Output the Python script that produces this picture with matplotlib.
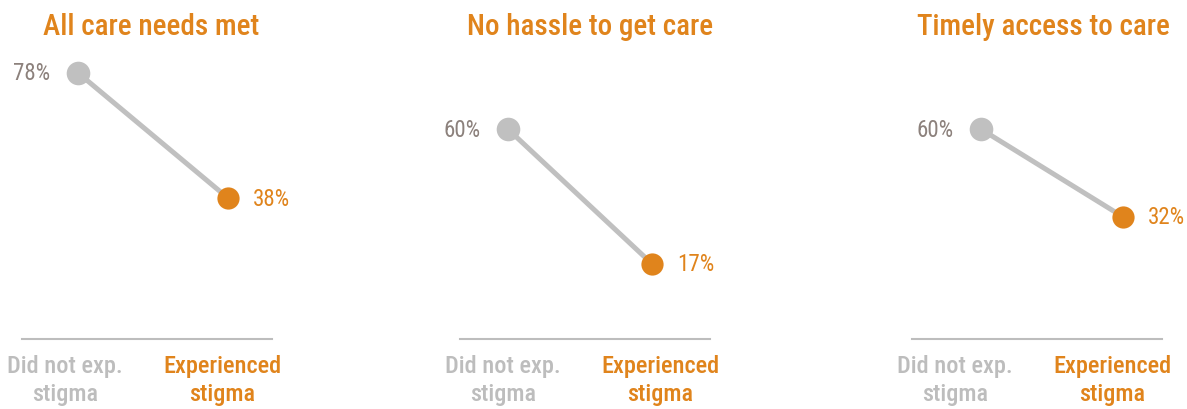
import matplotlib
matplotlib.use("Agg")
import matplotlib.pyplot as plt
from matplotlib import font_manager

# data
titles = ["All care needs met", "No hassle to get care", "Timely access to care"]
groups = ["Did not exp.\nstigma", "Experienced\nstigma"]
not_stigma = [78, 60, 60]
stigma = [38, 17, 32]

GRAY = "#c0c0c0"
GRAY_TXT = "#8c817c"
LABEL_GRAY = "#bdbdbd"
ORANGE = "#e0841c"

# pick a narrow face if one is installed
installed = {f.name for f in font_manager.fontManager.ttflist}
family = "DejaVu Sans"
for name in ["Liberation Sans Narrow", "Roboto Condensed", "Open Sans Condensed",
             "DejaVu Sans Condensed", "Noto Sans Condensed"]:
    if name in installed:
        family = name
        break
plt.rcParams["font.family"] = [family, "DejaVu Sans"]

W, H = 1187, 410
fig = plt.figure(figsize=(W / 100, H / 100), dpi=100)

# panel layout in pixels: left edge of baseline, and x of the two points
panels = [(22, 78, 228), (460, 508, 652), (912, 981, 1123)]
title_x = [151, 590, 1043]
span = 250
ybot, ytop = 340, 40

for i, (left, p0, p1) in enumerate(panels):
    ax = fig.add_axes([left / W, (H - ybot) / H, span / W, (ybot - ytop) / H])
    a = (p0 - left) / span
    b = (p1 - left) / span
    w = 1 / (b - a)
    ax.set_xlim(-a * w, -a * w + w)
    ax.set_ylim(-7, 88.8)

    ax.plot([0, 1], [not_stigma[i], stigma[i]], color=GRAY, lw=3.6,
            solid_capstyle="round", zorder=1)
    ax.plot(0, not_stigma[i], "o", color=GRAY, ms=17, mec="none", zorder=2, clip_on=False)
    ax.plot(1, stigma[i], "o", color=ORANGE, ms=16, mec="none", zorder=2, clip_on=False)

    ax.annotate(f"{not_stigma[i]}%", (0, not_stigma[i]), xytext=(-20, 0),
                textcoords="offset points", ha="right", va="center",
                color=GRAY_TXT, fontsize=16.5)
    ax.annotate(f"{stigma[i]}%", (1, stigma[i]), xytext=(18, 0),
                textcoords="offset points", ha="left", va="center",
                color=ORANGE, fontsize=16.5)

    ax.text(0.172, -0.05, groups[0], transform=ax.transAxes, ha="center", va="top",
            color=LABEL_GRAY, fontsize=17.5, fontweight="medium", linespacing=1.3)
    ax.text(0.80, -0.05, groups[1], transform=ax.transAxes, ha="center", va="top",
            color=ORANGE, fontsize=17.5, fontweight="medium", linespacing=1.3)

    fig.text(title_x[i] / W, 1 - 27 / H, titles[i], color=ORANGE, fontsize=21,
             fontweight="medium", ha="center", va="center")

    for s in ["top", "left", "right"]:
        ax.spines[s].set_visible(False)
    ax.spines["bottom"].set_color(LABEL_GRAY)
    ax.spines["bottom"].set_linewidth(1.5)
    ax.set_xticks([])
    ax.set_yticks([])
    ax.patch.set_alpha(0)

fig.savefig("out.png", dpi=100)
